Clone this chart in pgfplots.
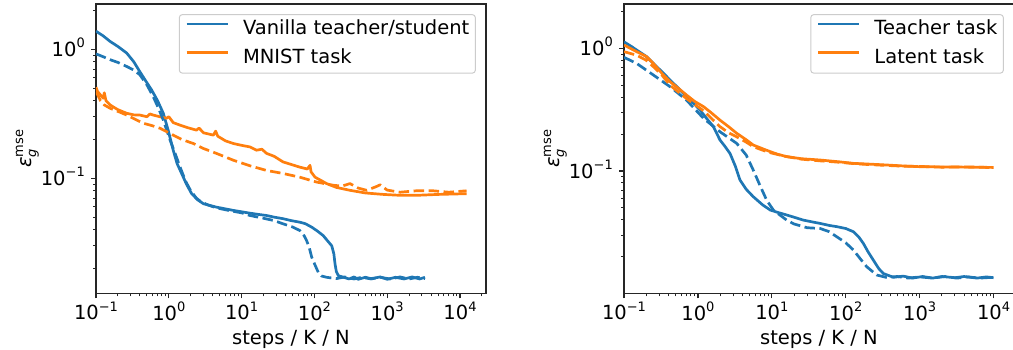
\documentclass[border=0pt]{standalone}
\usepackage{fontspec}
\setmainfont{DejaVu Sans}
\usepackage{pgfplots}
\pgfplotsset{compat=1.18}
\definecolor{tabblue}{HTML}{1F77B4}
\definecolor{taborange}{HTML}{FF7F0E}
\newcommand{\sm}{\fontsize{13}{14}\selectfont}
\newcommand{\tp}[1]{10\raisebox{8.5pt}{\sm #1}}
\newcommand{\eps}{{\itshape ε}\rlap{\raisebox{-5pt}{\sm\itshape g}}\raisebox{8pt}{\sm mse}}
\tikzset{dsh/.style={dash pattern=on 10.5pt off 4.5pt}}
\pgfplotsset{
 mystyle/.style={
  scale only axis, width=390pt, height=289.3pt,
  axis line style={black!85, line width=1.3pt},
  tick align=outside, tick pos=left,
  major tick length=5pt, minor tick length=3pt,
  every tick/.style={black!85, line width=1.2pt},
  every minor tick/.style={black!85, line width=0.9pt},
  xtick={0.1,1,10,100,1000,10000},
  xticklabels={\tp{−1},\tp{0},\tp{1},\tp{2},\tp{3},\tp{4}},
  minor xtick={0.2,0.3,0.4,0.5,0.6,0.7,0.8,0.9,2,3,4,5,6,7,8,9,20,30,40,50,60,70,80,90,200,300,400,500,600,700,800,900,2000,3000,4000,5000,6000,7000,8000,9000,20000},
  ytick={0.1,1}, yticklabels={\tp{−1},\tp{0}},
  minor ytick={0.02,0.03,0.04,0.05,0.06,0.07,0.08,0.09,0.2,0.3,0.4,0.5,0.6,0.7,0.8,0.9,2},
  xticklabel style={inner sep=0pt, anchor=north, yshift=-3.4pt},
  yticklabel style={inner sep=0pt, anchor=base east, xshift=-6pt, yshift=-7pt},
  xlabel={steps / K / N},
  xlabel style={at={(axis description cs:0.5,0)}, anchor=base, inner sep=0pt, yshift=-51pt},
  ylabel={\eps},
  ylabel style={at={(axis description cs:0,0.5)}, anchor=south, inner sep=0pt, yshift=57pt},
  legend cell align=left,
  legend image code/.code={\draw[##1, line width=2.7pt] (0pt,5.5pt) -- (41pt,5.5pt);},
  legend style={at={(0.974,0.965)}, anchor=north east, draw=black!20, line width=1pt,
    rounded corners=3pt, fill=white, fill opacity=0.8, text opacity=1,
    inner xsep=6pt, inner ysep=6pt, row sep=10.5pt, column sep=14pt,
    nodes={inner sep=0pt, text height=14pt, text depth=4pt}},
  every axis plot/.append style={line width=2.7pt, line join=round},
 }
}
\begin{document}
\fontsize{19.5}{23}\selectfont
\begin{tikzpicture}
\begin{loglogaxis}[mystyle, at={(96pt,55.7pt)}, anchor=south west,
  xmin=0.1, xmax=22750, ymin=0.01285, ymax=2.24]
\addplot[tabblue] coordinates {
(0.1,1.38) (0.125,1.27) (0.156,1.15) (0.2,1.05) (0.264,0.934) (0.33,0.80) (0.40,0.67)
(0.48,0.57) (0.58,0.484) (0.70,0.40) (0.84,0.319) (0.98,0.236) (1.15,0.165) (1.3,0.13)
(1.5,0.109) (1.75,0.09) (2.06,0.076) (2.5,0.068) (2.98,0.0636) (3.5,0.062) (4.5,0.0598)
(5.5,0.0585) (7.7,0.0564) (10,0.055) (13,0.0537) (17,0.0525) (22,0.0515) (28,0.050)
(37.4,0.0486) (48,0.047) (63,0.0457) (75,0.0445) (92,0.0418) (110,0.039) (132,0.036)
(150,0.033) (173,0.030) (185,0.026) (192,0.0217) (200,0.019) (213,0.0176) (260,0.0170)
(300,0.0166) (350,0.0172) (400,0.0165) (500,0.0171) (600,0.0167) (800,0.0172) (1000,0.0165)
(1300,0.0171) (1700,0.0166) (2200,0.0172) (2800,0.0166) (3300,0.0171)};
\addlegendentry{Vanilla teacher/student}
\addplot[taborange] coordinates {
(0.1,0.508) (0.105,0.47) (0.115,0.443) (0.12,0.43) (0.126,0.417) (0.13,0.46) (0.137,0.40)
(0.156,0.37) (0.2,0.34) (0.264,0.319) (0.33,0.31) (0.40,0.309) (0.5,0.30) (0.55,0.315)
(0.61,0.309) (0.75,0.30) (0.93,0.292) (1.0,0.30) (1.15,0.27) (1.43,0.258) (1.8,0.247)
(2.4,0.236) (2.6,0.245) (3.0,0.225) (4.1,0.216) (4.4,0.232) (4.7,0.212) (6,0.195)
(7.7,0.186) (10,0.18) (13,0.175) (16,0.165) (19,0.168) (22,0.156) (28,0.148) (37,0.134)
(48,0.128) (63,0.122) (80,0.118) (87,0.126) (90,0.112) (102,0.102) (120,0.097) (147,0.091)
(200,0.085) (308,0.0807) (500,0.077) (885,0.075) (1500,0.0738) (2540,0.0738) (5000,0.075)
(12300,0.076)};
\addlegendentry{MNIST task}
\addplot[tabblue, dsh, forget plot] coordinates {
(0.1,0.92) (0.125,0.875) (0.156,0.83) (0.2,0.79) (0.264,0.735) (0.33,0.69) (0.40,0.634)
(0.5,0.53) (0.61,0.43) (0.72,0.35) (0.84,0.283) (1.04,0.198) (1.2,0.16) (1.43,0.122)
(1.7,0.095) (2.0,0.08) (2.4,0.07) (2.8,0.0655) (3.5,0.062) (4.5,0.059) (7,0.056) (10,0.054)
(13,0.0515) (20,0.049) (28,0.047) (37,0.0444) (50,0.042) (63,0.0394) (72,0.036) (78,0.033)
(85,0.029) (92,0.0244) (103,0.021) (113,0.0187) (125,0.0175) (147,0.0171) (200,0.0167)
(260,0.0172) (350,0.0166) (450,0.0171) (600,0.0166) (800,0.0171) (1100,0.0166)
(1500,0.0172) (2000,0.0166) (2600,0.0171) (3300,0.0167)};
\addplot[taborange, dsh, forget plot] coordinates {
(0.1,0.47) (0.115,0.40) (0.13,0.37) (0.156,0.349) (0.2,0.33) (0.264,0.309) (0.33,0.29)
(0.447,0.267) (0.6,0.255) (0.76,0.244) (1.15,0.216) (1.5,0.20) (2.17,0.186) (3,0.17)
(4.5,0.156) (7.7,0.138) (13,0.125) (22,0.115) (37,0.109) (63,0.102) (107,0.0935)
(182,0.0883) (240,0.087) (308,0.091) (400,0.084) (522,0.0807) (700,0.086) (800,0.089)
(1000,0.081) (1500,0.078) (2500,0.08) (4300,0.08) (7000,0.078) (12300,0.08)};
\end{loglogaxis}
\begin{loglogaxis}[mystyle, at={(624pt,55.7pt)}, anchor=south west,
  xmin=0.1, xmax=18900, ymin=0.01007, ymax=2.30]
\addplot[tabblue] coordinates {
(0.1,1.13) (0.125,1.04) (0.148,0.97) (0.2,0.86) (0.249,0.755) (0.33,0.64) (0.42,0.552)
(0.55,0.47) (0.70,0.404) (0.9,0.35) (1.07,0.314) (1.3,0.27) (1.62,0.23) (1.99,0.179)
(2.3,0.16) (2.72,0.139) (3.2,0.11) (3.71,0.0845) (4.5,0.071) (5.6,0.0618) (7.5,0.053)
(9.5,0.0481) (12,0.046) (15.9,0.0438) (20,0.042) (26.7,0.0398) (35,0.0385) (45,0.0374)
(60,0.036) (75.5,0.0352) (100,0.034) (127,0.032) (150,0.029) (173,0.0257) (200,0.022)
(236,0.0188) (280,0.016) (323,0.0146) (441,0.0136) (600,0.0139) (800,0.0134) (1100,0.0138)
(1500,0.0134) (2000,0.0138) (3000,0.0135) (4000,0.0138) (6000,0.0134) (8000,0.0137)
(10000,0.0135)};
\addlegendentry{Teacher task}
\addplot[taborange] coordinates {
(0.1,1.065) (0.148,0.94) (0.2,0.86) (0.249,0.755) (0.33,0.62) (0.42,0.535) (0.55,0.47)
(0.70,0.417) (0.9,0.37) (1.19,0.335) (1.5,0.30) (1.99,0.26) (2.6,0.23) (3.35,0.203)
(4.5,0.18) (5.6,0.163) (7.5,0.152) (9.5,0.144) (12,0.137) (15.9,0.131) (25,0.126) (45,0.123)
(80,0.119) (127,0.1155) (200,0.114) (358,0.112) (600,0.11) (1000,0.1085) (2000,0.108)
(5000,0.1075) (10000,0.107)};
\addlegendentry{Latent task}
\addplot[tabblue, dsh, forget plot] coordinates {
(0.1,0.845) (0.148,0.755) (0.249,0.607) (0.42,0.487) (0.70,0.379) (1.19,0.269) (1.99,0.209)
(3.35,0.168) (4.5,0.135) (5.6,0.102) (7,0.075) (8.5,0.058) (10.5,0.048) (15.9,0.0398)
(20,0.037) (30,0.0345) (45,0.034) (60,0.032) (75,0.0292) (100,0.026) (127,0.0227)
(160,0.019) (192,0.0166) (262,0.0142) (350,0.0136) (500,0.0138) (700,0.0134) (1000,0.0137)
(1500,0.0134) (2200,0.0138) (3200,0.0134) (4500,0.0137) (6500,0.0134) (10000,0.0136)};
\addplot[taborange, dsh, forget plot] coordinates {
(0.1,0.94) (0.148,0.88) (0.2,0.80) (0.249,0.71) (0.33,0.60) (0.42,0.50) (0.70,0.39)
(1.19,0.31) (1.99,0.23) (2.6,0.205) (3.35,0.19) (4.5,0.172) (5.6,0.158) (7.5,0.148)
(10,0.14) (15,0.132) (25,0.125) (45,0.121) (80,0.118) (127,0.115) (200,0.113) (358,0.111)
(600,0.1095) (1000,0.109) (2000,0.1075) (5000,0.108) (10000,0.1065)};
\end{loglogaxis}
\pgfresetboundingbox
\path (0,0) rectangle (1013pt,349pt);
\end{tikzpicture}
\end{document}
